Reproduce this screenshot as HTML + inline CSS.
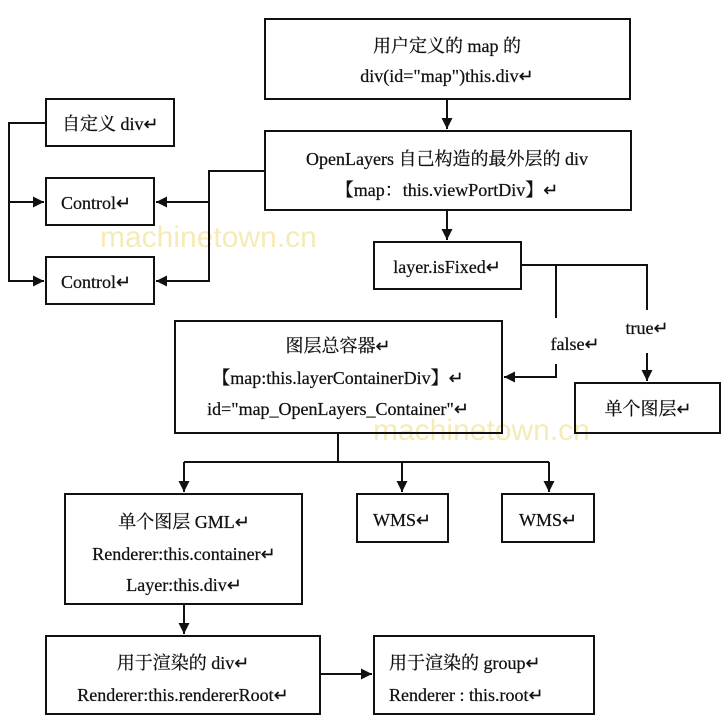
<!DOCTYPE html>
<html><head><meta charset="utf-8"><style>
html,body{margin:0;padding:0;background:#fff}
svg{display:block}
text{font-family:"Liberation Serif","Noto Serif CJK SC",serif;font-size:18px;fill:#111;stroke:#111;stroke-width:0.25}
.m{text-anchor:middle}
.w{font-family:"Liberation Sans",sans-serif;font-size:30px;fill:#f3e39a;stroke:none;opacity:.7}
</style></head><body>
<svg width="722" height="720" viewBox="0 0 722 720" xmlns="http://www.w3.org/2000/svg">
<defs><marker id="a" markerWidth="12" markerHeight="12" refX="11" refY="6" orient="auto" markerUnits="userSpaceOnUse"><path d="M0,0.5 L11,6 L0,11.5 z" fill="#111"/></marker></defs>
<text class="w" x="100" y="247">machinetown.cn</text>
<text class="w" x="373" y="440">machinetown.cn</text>
<g fill="none" stroke="#111" stroke-width="2">
<rect x="265" y="19" width="365" height="80"/>
<rect x="46" y="99" width="128" height="47"/>
<rect x="265" y="131" width="366" height="79"/>
<rect x="46" y="178" width="108" height="47"/>
<rect x="46" y="257" width="108" height="47"/>
<rect x="374" y="242" width="147" height="47"/>
<rect x="175" y="321" width="327" height="112"/>
<rect x="575" y="383" width="145" height="50"/>
<rect x="65" y="494" width="237" height="110"/>
<rect x="357" y="494" width="91" height="48"/>
<rect x="502" y="494" width="92" height="48"/>
<rect x="46" y="636" width="274" height="78"/>
<rect x="374" y="636" width="220" height="78"/>
<path d="M447 99 V129" marker-end="url(#a)"/>
<path d="M447 210 V240" marker-end="url(#a)"/>
<path d="M46 123 H9 V281 H44" marker-end="url(#a)"/>
<path d="M9 202 H44" marker-end="url(#a)"/>
<path d="M265 171 H209 V281 H156" marker-end="url(#a)"/>
<path d="M209 202 H156" marker-end="url(#a)"/>
<path d="M521 265 H647 V310"/>
<path d="M647 353 V381" marker-end="url(#a)"/>
<path d="M556 265 V318"/>
<path d="M556 364 V377 H504" marker-end="url(#a)"/>
<path d="M338 433 V462 M184 462 H549"/>
<path d="M184 462 V492" marker-end="url(#a)"/>
<path d="M402 462 V492" marker-end="url(#a)"/>
<path d="M549 462 V492" marker-end="url(#a)"/>
<path d="M184 604 V634" marker-end="url(#a)"/>
<path d="M320 674 H372" marker-end="url(#a)"/>
</g>
<text class="m" x="447" y="52">用户定义的 map 的</text>
<text class="m" x="447" y="82">div(id="map")this.div↵</text>
<text x="62" y="130">自定义 div↵</text>
<text class="m" x="447" y="165">OpenLayers 自己构造的最外层的 div</text>
<text class="m" x="447" y="196">【map：this.viewPortDiv】↵</text>
<text x="61" y="209">Control↵</text>
<text x="61" y="288">Control↵</text>
<text class="m" x="447" y="273">layer.isFixed↵</text>
<text class="m" x="575" y="350">false↵</text>
<text class="m" x="647" y="334">true↵</text>
<text class="m" x="338" y="352">图层总容器↵</text>
<text class="m" x="338" y="384">【map:this.layerContainerDiv】↵</text>
<text class="m" x="338" y="415">id="map_OpenLayers_Container"↵</text>
<text class="m" x="648" y="415">单个图层↵</text>
<text class="m" x="184" y="528">单个图层 GML↵</text>
<text class="m" x="184" y="560">Renderer:this.container↵</text>
<text class="m" x="184" y="591">Layer:this.div↵</text>
<text class="m" x="402" y="526">WMS↵</text>
<text class="m" x="548" y="526">WMS↵</text>
<text class="m" x="183" y="669">用于渲染的 div↵</text>
<text class="m" x="183" y="701">Renderer:this.rendererRoot↵</text>
<text x="389" y="669">用于渲染的 group↵</text>
<text x="389" y="701">Renderer : this.root↵</text>
</svg>
</body></html>
